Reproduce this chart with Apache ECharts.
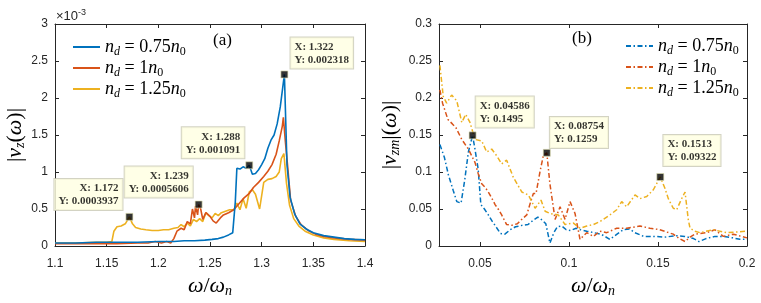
<!DOCTYPE html>
<html><head><meta charset="utf-8">
<script src="https://cdn.jsdelivr.net/npm/echarts@6/dist/echarts.min.js"></script>
<style>html,body{margin:0;padding:0;background:#fff}#c{width:761px;height:303px}</style>
</head><body><div id="c"></div>
<script>
// ---------- Panel (a) data: omega/omega_n vs |v_z(omega)| ----------
const aX075 = [1.100,1.120,1.140,1.160,1.180,1.200,1.215,1.225,1.235,1.245,1.252,1.258,1.263,1.268,1.272,1.2745,1.276,1.279,1.282,1.285,1.288,1.291,1.294,1.297,1.300,1.303,1.306,1.309,1.312,1.315,1.318,1.322,1.3245,1.3275,1.332,1.337,1.343,1.350,1.360,1.370,1.380,1.390,1.400];
const aY075 = [0.00004,0.00004,0.00005,0.00005,0.00005,0.00006,0.00006,0.00007,0.00007,0.00008,0.00009,0.00010,0.00012,0.00015,0.00018,0.00060,0.00105,0.00104,0.00107,0.00105,0.001091,0.00097,0.00098,0.00103,0.00110,0.00118,0.00132,0.00143,0.00150,0.00165,0.00188,0.002318,0.00110,0.00066,0.00043,0.00030,0.00023,0.00018,0.00014,0.00012,0.00010,0.00009,0.000085];
const aX1 = [1.100,1.130,1.160,1.180,1.190,1.197,1.203,1.208,1.212,1.215,1.218,1.222,1.225,1.228,1.231,1.233,1.235,1.236,1.238,1.239,1.241,1.243,1.246,1.250,1.253,1.256,1.260,1.263,1.268,1.273,1.278,1.283,1.288,1.292,1.297,1.302,1.306,1.310,1.314,1.317,1.320,1.321,1.323,1.325,1.328,1.333,1.338,1.345,1.352,1.360,1.370,1.385,1.400];
const aY1 = [0.00003,0.00003,0.00003,0.00004,0.00004,0.00006,0.00004,0.00006,0.00004,0.00010,0.00020,0.00024,0.00022,0.00033,0.00030,0.00050,0.00038,0.00054,0.00042,0.0005606,0.00050,0.00036,0.00045,0.00040,0.00034,0.00031,0.00038,0.00042,0.00045,0.00049,0.00057,0.00065,0.00071,0.00079,0.00086,0.00094,0.00101,0.00110,0.00124,0.00142,0.00162,0.00174,0.00140,0.00110,0.00062,0.00040,0.00029,0.00021,0.00016,0.00013,0.00011,0.00009,0.00008];
const aX125 = [1.100,1.120,1.140,1.150,1.155,1.157,1.160,1.164,1.168,1.172,1.175,1.178,1.183,1.188,1.194,1.200,1.205,1.210,1.215,1.219,1.222,1.225,1.228,1.231,1.234,1.237,1.240,1.243,1.246,1.249,1.252,1.255,1.258,1.261,1.265,1.269,1.273,1.276,1.279,1.282,1.285,1.288,1.291,1.294,1.298,1.302,1.306,1.310,1.314,1.317,1.319,1.3215,1.324,1.327,1.331,1.336,1.342,1.350,1.360,1.370,1.385,1.400];
const aY125 = [0.00004,0.00004,0.00005,0.00005,0.00006,0.00020,0.00026,0.00027,0.00030,0.0003937,0.00030,0.00025,0.00023,0.00022,0.00021,0.00021,0.00022,0.00022,0.00024,0.00025,0.00029,0.00026,0.00031,0.00027,0.00036,0.00033,0.00037,0.00033,0.00045,0.00041,0.00038,0.00044,0.00041,0.00045,0.00047,0.00049,0.00049,0.00058,0.00049,0.00064,0.00051,0.00073,0.00076,0.00070,0.00050,0.00086,0.00090,0.00091,0.00094,0.00100,0.00118,0.00125,0.00085,0.00055,0.00037,0.00027,0.00020,0.00015,0.00011,0.00009,0.00007,0.00006];
const aTips = [[1.322,0.002318],[1.288,0.001091],[1.239,0.0005606],[1.172,0.0003937]];
const aTicksX = [1.1,1.15,1.2,1.25,1.3,1.35,1.4];

// ---------- Panel (b) data: omega/omega_n vs |v_zm|(omega)| ----------
const bX075 = [0.0275,0.0300,0.0323,0.0350,0.0370,0.0394,0.0415,0.0435,0.04586,0.0472,0.0490,0.0505,0.0525,0.0547,0.0570,0.0590,0.0615,0.0640,0.0670,0.0700,0.0740,0.0770,0.0800,0.0825,0.0850,0.0870,0.0893,0.0915,0.0935,0.0960,0.0985,0.1010,0.1040,0.1065,0.1100,0.1140,0.1180,0.1230,0.1270,0.1305,0.1340,0.1370,0.1420,0.1480,0.1540,0.1600,0.1650,0.1700,0.1730,0.1770,0.1820,0.1870,0.1920,0.1960,0.2000];
const bY075 = [0.137,0.120,0.096,0.075,0.060,0.058,0.090,0.127,0.1495,0.131,0.104,0.056,0.050,0.042,0.033,0.026,0.017,0.016,0.022,0.026,0.028,0.029,0.035,0.039,0.035,0.030,0.004,0.018,0.026,0.027,0.022,0.021,0.024,0.022,0.020,0.018,0.016,0.009,0.016,0.022,0.023,0.018,0.013,0.013,0.012,0.014,0.013,0.010,0.006,0.010,0.013,0.013,0.011,0.009,0.009];
const bX1 = [0.0275,0.0290,0.0320,0.0345,0.0365,0.0398,0.0435,0.0472,0.0490,0.0510,0.0530,0.0547,0.0570,0.0585,0.0605,0.0622,0.0650,0.0680,0.0710,0.0735,0.0763,0.0785,0.0800,0.0815,0.0837,0.0856,0.08754,0.0893,0.0922,0.0950,0.0978,0.1006,0.1034,0.1062,0.1100,0.1137,0.1174,0.1212,0.1268,0.1324,0.1399,0.1455,0.1510,0.1560,0.1586,0.1620,0.1652,0.1680,0.1708,0.1774,0.1820,0.1867,0.1923,0.2000];
const bY1 = [0.211,0.193,0.171,0.165,0.160,0.144,0.131,0.113,0.098,0.084,0.079,0.073,0.063,0.056,0.049,0.042,0.029,0.028,0.030,0.036,0.042,0.060,0.071,0.071,0.100,0.122,0.1259,0.084,0.036,0.053,0.036,0.060,0.044,0.009,0.018,0.013,0.020,0.018,0.024,0.024,0.027,0.024,0.022,0.018,0.016,0.010,0.006,0.012,0.016,0.018,0.022,0.013,0.016,0.011];
const bX125 = [0.0275,0.0294,0.0313,0.0341,0.0370,0.0398,0.0420,0.0444,0.0472,0.0510,0.0538,0.0566,0.0594,0.0622,0.0650,0.0687,0.0735,0.0772,0.0810,0.0843,0.0866,0.0893,0.0940,0.0978,0.1025,0.1062,0.1100,0.1137,0.1174,0.1230,0.1268,0.1296,0.1324,0.1371,0.1399,0.1437,0.1474,0.1513,0.1539,0.1558,0.1586,0.1605,0.1633,0.1652,0.1670,0.1680,0.1708,0.1736,0.1810,0.1886,0.2000];
const bY125 = [0.244,0.202,0.193,0.204,0.196,0.167,0.178,0.167,0.144,0.142,0.127,0.131,0.122,0.111,0.116,0.093,0.073,0.069,0.051,0.062,0.047,0.044,0.042,0.029,0.031,0.024,0.027,0.029,0.033,0.042,0.049,0.060,0.053,0.069,0.064,0.067,0.076,0.09322,0.078,0.064,0.051,0.049,0.064,0.073,0.036,0.024,0.020,0.018,0.022,0.018,0.020];
const bTips = [[0.04586,0.1495],[0.08754,0.1259],[0.1513,0.09322]];
const bTicksX = [0.05,0.1,0.15,0.2];

const densities = ['0.75','1','1.25'];
const seriesNamesA = ['a075','a1','a125'];
const seriesNamesB = ['b075','b1','b125'];

// ---------- styling ----------
const COLORS = ['#0072BD','#D95319','#EDB120'];
const AX = '#262626';
const SERIF = 'Liberation Serif';
const SANS = 'Liberation Sans';
const aTipStyle = [{pos:[10,-33],align:'left'},{pos:[-1,-34],align:'right'},{pos:[-2,-34],align:'right'},{pos:[-3,-34],align:'right'}];
const bTipStyle = [{pos:[7,-35],align:'left'},{pos:[7,-32],align:'left'},{pos:[7,-38],align:'left'}];

const pts = (xs, ys) => xs.map((x, i) => [x, ys[i]]);
const fmtNum = v => String(Math.round(v * 1e6) / 1e6);

const mathRich = {
  i: {fontFamily: SERIF, fontStyle: 'italic', fontSize: 22, color: '#000'},
  t: {fontFamily: SERIF, fontSize: 22, color: '#000'},
  s: {fontFamily: SERIF, fontStyle: 'italic', fontSize: 14, color: '#000', padding: [10,0,0,0]},
  s0: {fontFamily: SERIF, fontSize: 14, color: '#000', padding: [10,0,0,0]}
};
const legRich = {
  i: {fontFamily: SERIF, fontStyle: 'italic', fontSize: 18, color: '#000', lineHeight: 20},
  t: {fontFamily: SERIF, fontSize: 18, color: '#000', lineHeight: 20},
  s: {fontFamily: SERIF, fontStyle: 'italic', fontSize: 12, color: '#000', padding: [9,0,0,0]},
  s0: {fontFamily: SERIF, fontSize: 12, color: '#000', padding: [9,0,0,0]}
};
function legendLabel(name) {
  const idx = Math.max(seriesNamesA.indexOf(name), seriesNamesB.indexOf(name));
  return '{i|n}{s|d}{t| = ' + densities[idx] + '}{i|n}{s0|0}';
}

function xAxisPair(grid, min, max, ticks, nameText) {
  const common = {
    type: 'value', gridIndex: grid, min: min, max: max,
    axisLine: {show: true, onZero: false, lineStyle: {color: AX, width: 1}},
    axisTick: {show: true, inside: true, length: 4, customValues: ticks, lineStyle: {color: AX}},
    splitLine: {show: false}
  };
  return [
    Object.assign({}, common, {
      position: 'bottom',
      axisLabel: {show: true, customValues: ticks, formatter: fmtNum, color: AX, fontFamily: SANS, fontSize: 12, margin: 12},
      name: nameText, nameLocation: 'middle', nameGap: 28,
      nameTextStyle: {rich: mathRich}
    }),
    Object.assign({}, common, {position: 'top', axisLabel: {show: false}})
  ];
}
function yAxisPair(grid, max, interval, formatter, nameText, nameGap) {
  const common = {
    type: 'value', gridIndex: grid, min: 0, max: max, interval: interval,
    axisLine: {show: true, onZero: false, lineStyle: {color: AX, width: 1}},
    axisTick: {show: true, inside: true, length: 4, lineStyle: {color: AX}},
    splitLine: {show: false}
  };
  return [
    Object.assign({}, common, {
      position: 'left',
      axisLabel: {show: true, formatter: formatter, color: AX, fontFamily: SANS, fontSize: 12, margin: 7},
      name: nameText, nameLocation: 'middle', nameGap: nameGap, nameRotate: 90,
      nameTextStyle: {rich: mathRich}
    }),
    Object.assign({}, common, {position: 'right', axisLabel: {show: false}})
  ];
}

const xName = '{i|ω}{t|/}{i|ω}{s|n}';
const xAxes = [].concat(
  xAxisPair(0, 1.1, 1.4, aTicksX, xName),
  xAxisPair(1, 0.027, 0.2, bTicksX, xName)
);
const yAxes = [].concat(
  yAxisPair(0, 0.003, 0.0005, v => String(Math.round(v * 1e4) / 10), '{t||}{i|v}{s|z}{t|(}{i|ω}{t|)|}', 25),
  yAxisPair(1, 0.3, 0.05, v => String(Math.round(v * 100) / 100), '{t||}{i|v}{s|zm}{t||(}{i|ω}{t|)|}', 37)
);

const series = [];
const aXs = [aX075, aX1, aX125], aYs = [aY075, aY1, aY125];
const bXs = [bX075, bX1, bX125], bYs = [bY075, bY1, bY125];
for (let k = 0; k < 3; k++) {
  series.push({
    name: seriesNamesA[k], type: 'line', xAxisIndex: 0, yAxisIndex: 0,
    data: pts(aXs[k], aYs[k]), symbol: 'none', smooth: false, z: 3 - k + 2,
    lineStyle: {color: COLORS[k], width: 1.6}, itemStyle: {color: COLORS[k]}
  });
}
for (let k = 0; k < 3; k++) {
  series.push({
    name: seriesNamesB[k], type: 'line', xAxisIndex: 2, yAxisIndex: 2,
    data: pts(bXs[k], bYs[k]), symbol: 'none', smooth: false, z: 2,
    lineStyle: {color: COLORS[k], width: 1.5, type: [5, 2.5, 1.5, 2.5]}, itemStyle: {color: COLORS[k]}
  });
}
const tipLabel = {
  show: true, formatter: p => 'X: ' + p.value[0] + '\nY: ' + p.value[1],
  backgroundColor: '#ffffe1', borderColor: '#c8c8b4', borderWidth: 1,
  padding: [3, 4, 2, 4], fontFamily: SERIF, fontWeight: 'bold', fontSize: 11, lineHeight: 13,
  color: '#000', verticalAlign: 'top'
};
function tipSeries(xi, yi, tips, styles) {
  return {
    type: 'scatter', xAxisIndex: xi, yAxisIndex: yi, z: 20, silent: true,
    symbol: 'rect', symbolSize: 7,
    itemStyle: {color: '#000', borderColor: '#e0e0b0', borderWidth: 0.8},
    label: tipLabel,
    data: tips.map((t, i) => ({value: t, label: {position: styles[i].pos, align: styles[i].align}}))
  };
}
series.push(tipSeries(0, 0, aTips, aTipStyle));
series.push(tipSeries(2, 2, bTips, bTipStyle));

const legendBase = {
  orient: 'vertical', itemWidth: 27, itemHeight: 14, itemGap: 1.5,
  itemStyle: {opacity: 0},
  formatter: legendLabel, textStyle: {rich: legRich}, selectedMode: false
};

const option = {
  animation: false,
  backgroundColor: '#fff',
  grid: [
    {left: 55, top: 24, width: 310, height: 224},
    {left: 439, top: 24, width: 308, height: 226}
  ],
  xAxis: xAxes,
  yAxis: yAxes,
  legend: [
    Object.assign({}, legendBase, {data: seriesNamesA, left: 67, top: 33}),
    Object.assign({}, legendBase, {data: seriesNamesB, left: 620, top: 32})
  ],
  graphic: [
    {type: 'text', left: 213, top: 32, style: {text: '(a)', fontFamily: SERIF, fontSize: 17, fill: '#000'}},
    {type: 'text', left: 572, top: 30, style: {text: '(b)', fontFamily: SERIF, fontSize: 17, fill: '#000'}},
    {type: 'text', left: 56, top: 8, style: {
      text: '{a|×10}{b|-3}', rich: {
        a: {fontFamily: SANS, fontSize: 13, fill: AX},
        b: {fontFamily: SANS, fontSize: 9, fill: AX, padding: [0,0,8,0]}
      }}}
  ],
  series: series
};
echarts.init(document.getElementById('c'), null, {renderer: 'canvas'}).setOption(option);
</script>
</body></html>
